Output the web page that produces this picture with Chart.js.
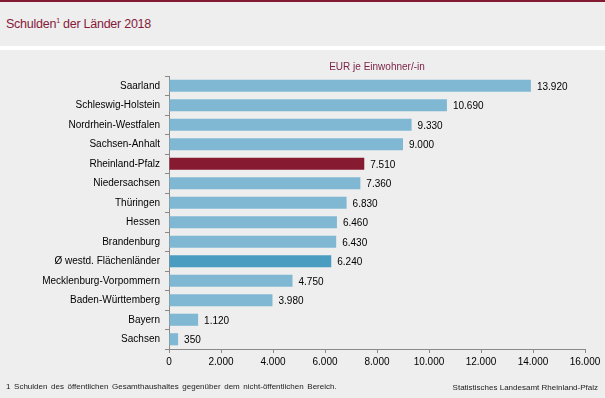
<!DOCTYPE html>
<html lang="de">
<head>
<meta charset="utf-8">
<script src="https://cdn.jsdelivr.net/npm/chart.js@4"></script>
<style>
  html, body { margin: 0; padding: 0; }
  body {
    width: 605px; height: 398px; position: relative; overflow: hidden;
    background: #edeeed; font-family: "Liberation Sans", Arial, sans-serif;
  }
  #stripe { position: absolute; left: 0; top: 0; width: 605px; height: 2px; background: #841a31; }
  #title { position: absolute; left: 6px; top: 17px; font-size: 12.5px; color: #87193a; letter-spacing: -0.25px; }
  #title sup { font-size: 7px; vertical-align: 5px; }
  #gap { position: absolute; left: 0; top: 46px; width: 605px; height: 4px; background: #fff; }
  #wrap { position: absolute; left: 0; top: 50px; width: 605px; height: 348px; }
  #note { position: absolute; left: 6px; top: 382px; font-size: 8px; color: #222; word-spacing: 1.4px; }
  #source { position: absolute; right: 7px; top: 383px; font-size: 8px; color: #222; }
</style>
</head>
<body>
<div id="stripe"></div>
<div id="title">Schulden<sup>1</sup> der Länder 2018</div>
<div id="gap"></div>
<div id="wrap"><canvas id="debt-chart"></canvas></div>
<div id="note">1 Schulden des öffentlichen Gesamthaushaltes gegenüber dem nicht-öffentlichen Bereich.</div>
<div id="source">Statistisches Landesamt Rheinland-Pfalz</div>
<script>
const states = [
  "Saarland", "Schleswig-Holstein", "Nordrhein-Westfalen", "Sachsen-Anhalt",
  "Rheinland-Pfalz", "Niedersachsen", "Thüringen", "Hessen", "Brandenburg",
  "Ø westd. Flächenländer", "Mecklenburg-Vorpommern", "Baden-Württemberg",
  "Bayern", "Sachsen",
];
const debtPerCapita = [13920, 10690, 9330, 9000, 7510, 7360, 6830, 6460, 6430, 6240, 4750, 3980, 1120, 350];
const xTicks = [0, 2000, 4000, 6000, 8000, 10000, 12000, 14000, 16000];
const unitLabel = "EUR je Einwohner/-in";

const FONT = "'Liberation Sans', Arial, sans-serif";

function formatDe(n) {
  return String(n).replace(/\B(?=(\d{3})+(?!\d))/g, ".");
}

function barColor(name) {
  if (name === "Rheinland-Pfalz") return "#851a30";
  if (name.startsWith("Ø")) return "#4a9dc0";
  return "#80b8d4";
}

// value labels right of each bar
const valueLabels = {
  id: "valueLabels",
  afterDatasetsDraw(chart) {
    const ctx = chart.ctx;
    const meta = chart.getDatasetMeta(0);
    ctx.save();
    ctx.font = "10px " + FONT;
    ctx.fillStyle = "#000";
    ctx.textBaseline = "middle";
    ctx.textAlign = "left";
    meta.data.forEach((bar, i) => {
      ctx.fillText(formatDe(debtPerCapita[i]), bar.x + 6, bar.y + 1);
    });
    ctx.restore();
  },
};

// unit caption above the plot
const unitCaption = {
  id: "unitCaption",
  afterDraw(chart) {
    const { ctx, chartArea } = chart;
    ctx.save();
    ctx.font = "10px " + FONT;
    ctx.fillStyle = "#7a1f45";
    ctx.textAlign = "center";
    ctx.textBaseline = "middle";
    ctx.fillText(unitLabel, (chartArea.left + chartArea.right) / 2, chartArea.top - 9);
    ctx.restore();
  },
};

const ctx = document.getElementById("debt-chart").getContext("2d");
const debtChart = new Chart(ctx, {
  type: "bar",
  data: {
    labels: states,
    datasets: [
      {
        data: debtPerCapita,
        backgroundColor: states.map(barColor),
        borderWidth: 0,
        barPercentage: 0.62,
        categoryPercentage: 1,
      },
    ],
  },
  options: {
    indexAxis: "y",
    responsive: true,
    maintainAspectRatio: false,
    animation: false,
    layout: {
      padding: { left: 0, right: 20, top: 26, bottom: 29 },
    },
    scales: {
      x: {
        min: 0,
        max: 16000,
        afterBuildTicks(scale) {
          scale.ticks = xTicks.map((v) => ({ value: v }));
        },
        afterFit(scale) {
          scale.height = 20;
        },
        ticks: {
          color: "#000",
          padding: 3,
          maxRotation: 0,
          font: { size: 10, family: FONT },
          callback: (v) => formatDe(v),
        },
        grid: {
          drawOnChartArea: false,
          drawTicks: true,
          tickLength: 4,
          color: "#8a8a8a",
        },
        border: { display: true, color: "#8a8a8a" },
      },
      y: {
        afterFit(scale) {
          scale.width = 169;
        },
        ticks: {
          color: "#000",
          padding: 5,
          font: { size: 10, family: FONT },
        },
        grid: {
          offset: true,
          drawOnChartArea: false,
          drawTicks: true,
          tickLength: 4,
          color: "#8a8a8a",
        },
        border: { display: true, color: "#8a8a8a" },
      },
    },
    plugins: {
      legend: { display: false },
      tooltip: { enabled: false },
    },
  },
  plugins: [valueLabels, unitCaption],
});
</script>
</body>
</html>
